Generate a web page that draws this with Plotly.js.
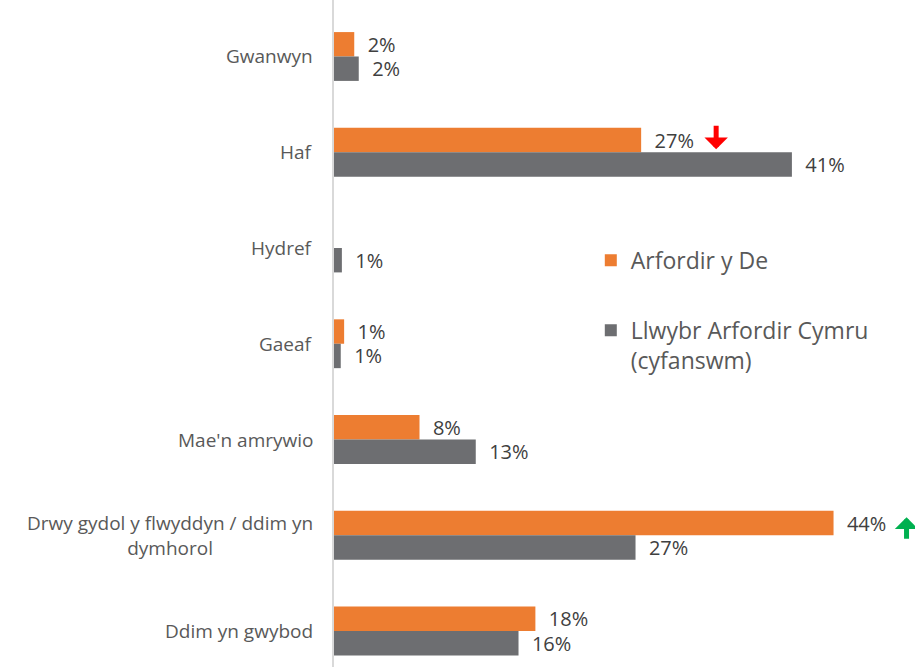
<!DOCTYPE html>
<html>
<head>
<meta charset="utf-8">
<script src="https://cdn.plot.ly/plotly-3.0.1.min.js"></script>
<style>html,body{margin:0;padding:0;background:#fff;}#chart{width:915px;height:667px;}</style>
</head>
<body>
<div id="chart"></div>
<script>
const categories = ["Gwanwyn", "Haf", "Hydref", "Gaeaf", "Mae'n amrywio", "Drwy gydol y flwyddyn / ddim yn<br>dymhorol", "Ddim yn gwybod"];
const seriesNames = ["Arfordir y De", "Llwybr Arfordir Cymru<br>(cyfanswm)"];
// values (labels shown rounded)
const southCoast = [1.8, 27.3, 0, 0.9, 7.6, 44.4, 17.9];
const walesTotal = [2.2, 40.7, 0.7, 0.6, 12.6, 26.8, 16.4];
const colors = ["#ED7D31", "#6D6E71"];

const fontFam = "'Open Sans', 'Noto Sans', sans-serif";
const lbl = v => v > 0 ? "\u00a0\u00a0" + Math.round(v) + "%" : "";

function barTrace(vals, i) {
  return {
    type: "bar", orientation: "h",
    y: categories.map((c, k) => k), x: vals,
    name: seriesNames[i], legendgroup: "g" + i,
    marker: {color: colors[i]},
    text: vals.map(lbl), textposition: "outside", cliponaxis: false,
    constraintext: "none",
    textfont: {family: fontFam, size: 20, color: "#404040"},
    hoverinfo: "skip"
  };
}

const data = [barTrace(southCoast, 0), barTrace(walesTotal, 1)];

const catAnnotations = categories.map((c, k) => ({
  xref: "paper", yref: "y", x: 0, y: k, xanchor: "right", yanchor: "middle",
  xshift: -19, text: c, showarrow: false, align: "center",
  font: {family: fontFam, size: 19, color: "#595959"}
}));

const arrowAnnotations = [
  {xref: "x", yref: "y", x: southCoast[1], y: 1, xshift: 75, yshift: 3,
   ax: 0, ay: -25, text: "", font: {size: 1}, showarrow: true, arrowhead: 1, arrowwidth: 5,
   arrowsize: 0.78, arrowcolor: "#FF0000"},
  {xref: "x", yref: "y", x: southCoast[5], y: 5, xshift: 73, yshift: 18,
   ax: 0, ay: 23, text: "", font: {size: 1}, showarrow: true, arrowhead: 1, arrowwidth: 5,
   arrowsize: 0.78, arrowcolor: "#00B050"}
];

const layout = {
  width: 915, height: 667,
  margin: {l: 334, r: 0, t: 0, b: 0},
  paper_bgcolor: "#fff", plot_bgcolor: "#fff",
  barmode: "group", bargap: 0.49, bargroupgap: 0,
  xaxis: {range: [0, 51.64], visible: false, fixedrange: true},
  yaxis: {range: [6.376, -0.59], showticklabels: false, ticks: "", showgrid: false,
          zeroline: false, showline: true, linecolor: "#D9D9D9", linewidth: 2, fixedrange: true},
  showlegend: true,
  legend: {x: 0.442, y: 0.642, xanchor: "left", yanchor: "top", traceorder: "grouped",
           tracegroupgap: 37, valign: "top", bgcolor: "rgba(0,0,0,0)",
           font: {family: fontFam, size: 23, color: "#595959"}},
  annotations: catAnnotations.concat(arrowAnnotations),
  font: {family: fontFam}
};

Plotly.newPlot("chart", data, layout, {displayModeBar: false, staticPlot: true});
</script>
</body>
</html>
